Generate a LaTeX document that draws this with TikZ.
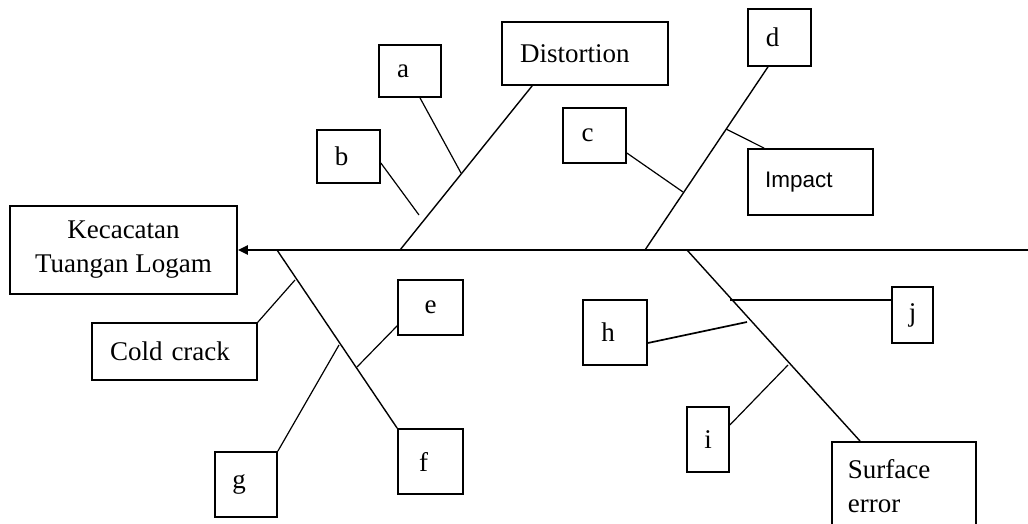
\documentclass[tikz,border=0pt]{standalone}
\usepackage{fontspec}
\setmainfont{Liberation Serif}
\newfontfamily\sansf{Liberation Sans}
\usetikzlibrary{calc,arrows.meta}
\begin{document}
\begin{tikzpicture}[x=1pt,y=-1pt,
  box/.style={draw, line width=1.7pt, inner sep=0pt, font=\fontsize{27}{34}\selectfont},
  letter/.style={box, execute at begin node={\hspace*{-14pt}}},
  lbox/.style={box, align=left},
  bone/.style={line width=1.4pt},
  twig/.style={line width=1.2pt},
  spine/.style={line width=2.3pt}]
\useasboundingbox (0,0) rectangle (1028,524);
\clip (0,0) rectangle (1028,524);

% effect box
\node[box, align=center, minimum width=227, minimum height=88] (main) at (123.5,250) {Kecacatan\\Tuangan Logam};

% upper categories
\node[lbox, inner xsep=18pt, text width=130pt, minimum height=63] (dist) at (585,53.5) {Distortion};
\node[lbox, font=\sansf\fontsize{22.5}{28}\selectfont, inner xsep=17pt, text width=91pt, minimum height=66] (imp) at (810.5,182) {Impact};
\node[letter, minimum width=62, minimum height=52] (a) at (410,71) {a};
\node[letter, minimum width=63, minimum height=53] (b) at (348.5,156.5) {b};
\node[letter, minimum width=63, minimum height=55] (c) at (594.5,135.5) {c};
\node[letter, minimum width=63, minimum height=57] (d) at (779.5,37.5) {d};

% lower categories
\node[lbox, inner xsep=18pt, text width=129pt, minimum height=57] (cold) at (174.5,351.5) {Cold crack};
\node[lbox, anchor=north west, inner xsep=16pt, text width=112pt, minimum height=88] (surf) at (831,441) {Surface\\error};
\node[box, minimum width=65, minimum height=55] (e) at (430.5,307.5) {e};
\node[letter, minimum width=65, minimum height=65] (f) at (430.5,461.5) {f};
\node[letter, minimum width=62, minimum height=65] (g) at (246,484.5) {g};
\node[letter, minimum width=64, minimum height=65] (h) at (615,332.5) {h};
\node[box, minimum width=42, minimum height=65] (i) at (708,439.5) {i};
\node[box, minimum width=41, minimum height=56] (j) at (912.5,315) {j};

% spine and junctions
\coordinate (tail) at (1028,250);
\coordinate (jD) at (400,250);
\coordinate (jd) at (645,250);
\coordinate (js) at (687,250);
\coordinate (jf) at (277,250);
\draw[spine, -{Triangle[length=10pt,width=9pt]}] (tail) -- (main.east);

% main bones
\draw[bone] (jD) -- ($(dist.south west)+(31,0)$);
\draw[bone] (jd) -- ($(d.south)+(-11.5,0)$);
\draw[bone] (js) -- ($(surf.north west)+(29,0)$);
\draw[bone] (jf) -- (f.north west);

% points on the bones
\coordinate (pa) at (461,173);
\coordinate (pb) at (419,215);
\coordinate (pc) at (683,192);
\coordinate (pimp) at (726,129);
\coordinate (pj) at (730,300);
\coordinate (ph) at (747,322);
\coordinate (pi) at (788,365);
\coordinate (pcold) at (295,280);
\coordinate (pe) at (357,367);
\coordinate (pg) at (339,345);

% sub-causes
\draw[twig] ($(a.south)+(10,0)$) -- (pa);
\draw[twig] ($(b.east)+(0,6.5)$) -- (pb);
\draw[twig] ($(c.east)+(0,17.5)$) -- (pc);
\draw[twig] (pimp) -- ($(imp.north west)+(17,0)$);
\draw[twig] (pj) -- ($(j.west)+(0,-15)$);
\draw[line width=1.7pt] ($(h.east)+(0,10.5)$) -- (ph);
\draw[twig] ($(i.east)+(0,-14.5)$) -- (pi);
\draw[twig] (pcold) -- (cold.north east);
\draw[twig] ($(e.south west)+(0,-10)$) -- (pe);
\draw[twig] (g.north east) -- (pg);
\end{tikzpicture}
\end{document}
